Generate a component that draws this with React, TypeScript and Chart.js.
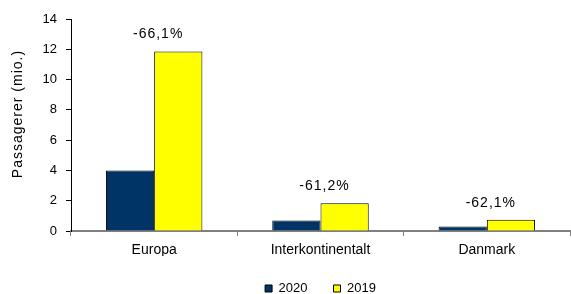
import React, { useEffect, useRef } from 'react';
import { Chart, registerables } from 'chart.js';

Chart.register(...registerables);

const categories = ['Europa', 'Interkontinentalt', 'Danmark'];
const values2020 = [4.0, 0.7, 0.29];
const values2019 = [11.85, 1.83, 0.75];
const changeLabels = ['-66,1%', '-61,2%', '-62,1%'];
const seriesNames = ['2020', '2019'];
const seriesColors = ['#003366', '#FFFF00'];
const yTitle = 'Passagerer (mio.)';

const FONT = '"Liberation Sans", Arial, sans-serif';

const textPlugin = {
  id: 'extraText',
  afterDatasetsDraw(chart: any) {
    const { ctx, chartArea } = chart;
    const meta = chart.getDatasetMeta(1);
    const xs = chart.scales.x;
    ctx.save();
    ctx.font = `14px ${FONT}`;
    (ctx as any).letterSpacing = '1px';
    ctx.fillStyle = '#000';
    ctx.textAlign = 'center';
    ctx.textBaseline = 'middle';
    changeLabels.forEach((t, i) => {
      const bar = meta.data[i];
      const x = xs.getPixelForValue(i) + 4;
      ctx.fillText(t, x, bar.y - 17);
    });
    ctx.restore();

    // y-axis title
    ctx.save();
    ctx.font = `14px ${FONT}`;
    (ctx as any).letterSpacing = '1px';
    ctx.fillStyle = '#000';
    ctx.textAlign = 'center';
    ctx.textBaseline = 'middle';
    ctx.translate(18, (chartArea.top + chartArea.bottom) / 2 - 11);
    ctx.rotate(-Math.PI / 2);
    ctx.fillText(yTitle, 0, 0);
    ctx.restore();
  },
};

export default function App() {
  const ref = useRef<HTMLCanvasElement>(null);
  useEffect(() => {
    if (!ref.current) return;
    const chart = new Chart(ref.current, {
      type: 'bar',
      data: {
        labels: categories,
        datasets: [
          {
            label: seriesNames[0],
            data: values2020,
            backgroundColor: seriesColors[0],
            borderColor: '#000',
            borderWidth: 1,
            categoryPercentage: 0.58,
            barPercentage: 1,
          },
          {
            label: seriesNames[1],
            data: values2019,
            backgroundColor: seriesColors[1],
            borderColor: '#000',
            borderWidth: 1,
            categoryPercentage: 0.58,
            barPercentage: 1,
          },
        ],
      },
      options: {
        animation: false,
        responsive: false,
        devicePixelRatio: 1,
        layout: { padding: { top: 19, left: 0, right: 1, bottom: 0 } },
        plugins: {
          tooltip: { enabled: false },
          legend: {
            position: 'bottom',
            fullSize: false,
            maxHeight: 38,
            labels: {
              boxWidth: 7,
              boxHeight: 7,
              padding: 26,
              color: '#000',
              font: { size: 13, family: FONT },
            },
          },
        },
        scales: {
          x: {
            grid: {
              offset: true,
              drawOnChartArea: false,
              drawTicks: true,
              tickLength: 5,
              color: '#808080',
            },
            border: { color: '#808080', width: 2 },
            ticks: { color: '#000', padding: 6, font: { size: 14, family: FONT } },
            afterFit: (s: any) => {
              s.height = 25;
            },
          },
          y: {
            min: 0,
            max: 14,
            ticks: { stepSize: 2, color: '#000', padding: 9, font: { size: 13, family: FONT } },
            grid: { drawOnChartArea: false, drawTicks: true, tickLength: 5, color: '#000' },
            border: { color: '#000', width: 1 },
            title: { display: false },
            afterFit: (s: any) => {
              s.width = 71;
            },
          },
        },
      },
      plugins: [textPlugin],
    });
    return () => chart.destroy();
  }, []);
  return (
    <div style={{ position: 'absolute', left: 0, top: 0, width: 571, height: 294, background: '#fff' }}>
      <canvas ref={ref} width={571} height={294} style={{ display: 'block' }} />
    </div>
  );
}
